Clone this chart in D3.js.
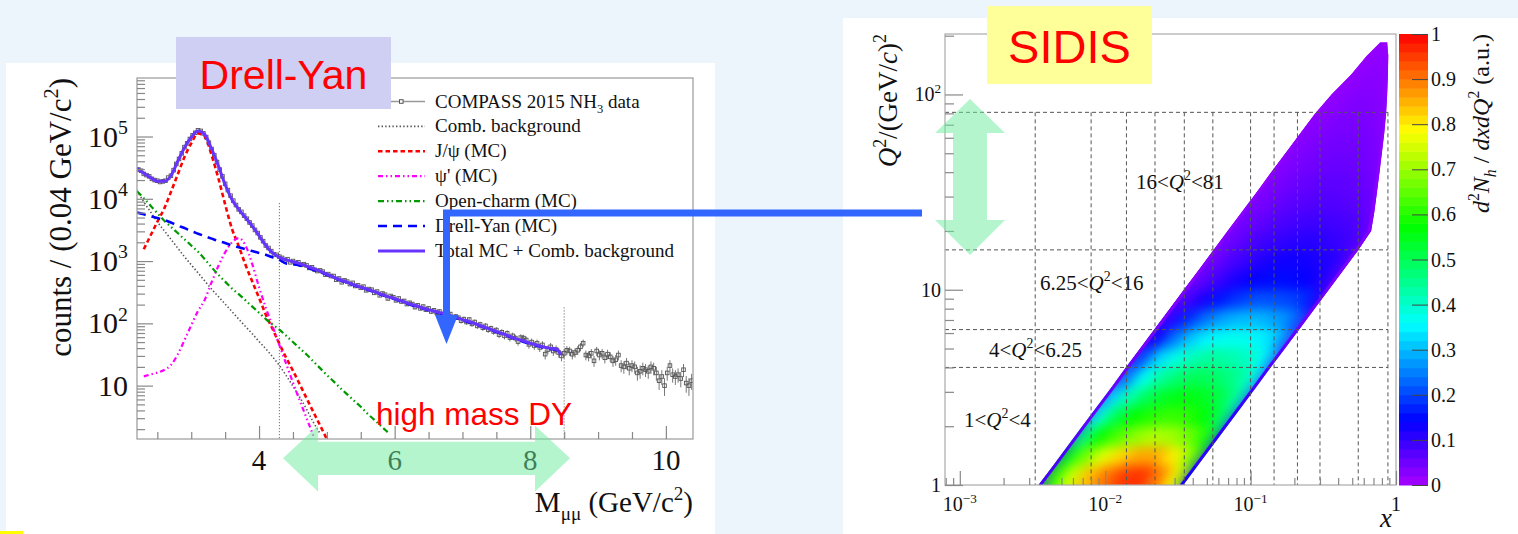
<!DOCTYPE html>
<html>
<head>
<meta charset="utf-8">
<script src="https://cdn.jsdelivr.net/npm/d3@7"></script>
<style>
  html, body { margin: 0; padding: 0; background: #edf5fc; }
  svg { display: block; }
  .serif { font-family: "Liberation Serif", "Times New Roman", serif; fill: #111; }
  .sans { font-family: "Liberation Sans", Arial, sans-serif; }
</style>
</head>
<body>
<svg id="chart" width="1518" height="534"></svg>
<script>
// ================= Drell-Yan: dimuon invariant mass spectrum =================
const massRange = [2.2, 10.4];          // GeV/c^2
const countRange = [1.39, 8.7e5];       // counts / 0.04 GeV/c^2
const binFirstCentre = 2.22, binWidth = 0.04;

// COMPASS 2015 NH3 data, one entry per 0.04 GeV/c^2 bin (2.22 ... 10.38)
const dataCounts = [
  // 2.22 - 4.30
  29510, 28180, 25120, 23990, 22910, 20890, 19950, 19500, 18620, 19050,
  19500, 21880, 23440, 28840, 36310, 43650, 53700, 67610, 77620, 91200,
  104700, 114800, 125900, 123000, 112200, 97720, 79430, 63100, 50120, 38900,
  29510, 22910, 17380, 13800, 11220, 9333, 7943, 6761, 6166, 5370,
  4786, 4169, 3715, 3162, 2818, 2399, 2089, 1778, 1622, 1445,
  1288, 1259, 1175,
  // 4.34 - 8.46
  1122, 1023, 1072, 955, 1000, 933, 955, 871, 891, 851,
  776, 794, 724, 692, 708, 676, 603, 617, 575, 575,
  501, 525, 457, 490, 468, 427, 447, 398, 407, 372,
  389, 339, 355, 347, 309, 324, 282, 302, 288, 251,
  275, 263, 234, 251, 224, 229, 204, 214, 204, 182,
  195, 174, 186, 166, 174, 155, 162, 148, 155, 138,
  148, 135, 141, 123, 129, 123, 110, 117, 105, 115,
  98, 105, 91, 96, 85, 91, 79, 83, 74, 78,
  66, 72, 63, 69, 59, 63, 58, 51, 59, 58,
  54, 46, 50, 44, 48, 41, 45, 32, 38, 42,
  36, 38, 34, 30,
  // 8.50 - 10.38
  33, 37, 36, 32, 34, 37, 42, 48, 31, 30,
  33, 25, 36, 31, 33, 28, 32, 29, 25, 26,
  31, 21, 20, 23, 19, 21, 20, 16, 17, 19,
  18, 17, 20, 19, 16, 12, 14, 10, 16, 21,
  15, 14, 15, 13, 18, 11, 10, 12
];

// MC components and combinatorial background (counts per bin)
const combMass   = [2.2,2.3,2.4,2.5,2.6,2.7,2.8,2.9,3.0,3.1,3.2,3.3,3.4,3.5,3.6,3.7,3.8,3.9,4.0,4.1,4.2,4.3,4.4,4.5,4.6,4.7,4.8,4.9];
const combCounts = [13490,8913,6166,4266,3090,2239,1622,1175,871,646,479,355,269,204,155,117,89,68,51,39,29,21,14.5,9.8,6.5,4.2,2.6,1.7];

const jpsiMass   = [2.3,2.4,2.5,2.6,2.7,2.8,2.9,3.0,3.1,3.2,3.3,3.4,3.5,3.6,3.7,3.8,3.9,4.0,4.1,4.2,4.3,4.4,4.5,4.6,4.7,4.8,4.9,5.0];
const jpsiCounts = [1550,2570,4270,6920,12880,24550,46770,77620,112200,100000,50120,21380,8130,3310,1740,871,468,257,138,81,47,28,17.4,10.5,6.3,3.8,2.3,1.38];

const psi2Mass   = [2.3,2.4,2.5,2.6,2.7,2.8,2.9,3.0,3.1,3.2,3.3,3.4,3.5,3.6,3.7,3.8,3.9,4.0,4.1,4.2,4.3,4.4,4.5,4.6,4.7,4.8];
const psi2Counts = [14.1,15.1,16.2,17.8,21.4,31.6,53.7,93.3,158,240,457,832,1380,1995,2344,1778,891,380,178,89,44.7,22.4,11.2,5.75,3.02,1.58];

const charmMass   = [2.2,2.3,2.4,2.5,2.6,2.7,2.8,2.9,3.0,3.1,3.2,3.3,3.4,3.5,3.6,3.7,3.8,3.9,4.0,4.1,4.2,4.3,4.4,4.5,4.6,4.7,4.8,4.9,5.0,5.1,5.2,5.3,5.4,5.5,5.6,5.7,5.8,5.9];
const charmCounts = [13180,10230,7762,5888,4467,3548,2818,2239,1778,1413,1072,794,603,468,363,295,234,186,148,117,95.5,79.4,63.1,50.1,39.8,31.6,24.5,19.1,14.8,11.7,9.12,7.24,5.75,4.57,3.55,2.82,2.24,1.78];

const dyMass   = [2.2,2.3,2.4,2.5,2.6,2.7,2.8,2.9,3.0,3.1,3.2,3.3,3.4,3.5,3.6,3.7,3.8,3.9,4.0,4.1,4.2,4.3,4.4,4.5,4.6,4.7,4.8,
                  5.0,5.2,5.4,5.6,5.8,6.0,6.2,6.4,6.6,6.8,7.0,7.2,7.4,7.6,7.8,8.0,8.2,8.4];
const dyCounts = [6026,5623,5248,4898,4571,4169,3715,3388,3020,2754,2512,2291,2089,1950,1778,1660,1549,1445,1349,1259,1148,1047,912,891,851,794,724,
                  603,490,407,347,288,245,204,174,151,132,112,95.5,79.4,66.1,55.0,46.8,40.7,37.2];

const totalMass   = [2.2,2.3,2.4,2.5,2.6,2.7,2.8,2.9,3.0,3.1,3.2,3.3,3.4,3.5,3.6,3.7,3.8,3.9,4.0,4.1,4.2,4.3,
                     4.4,4.5,4.6,4.7,4.8,4.9,5.0,5.1,5.2,5.3,5.4,5.5,5.6,5.7,5.8,5.9,6.0,6.1,6.2,6.3,6.4,6.5,6.6,6.7,6.8,6.9,
                     7.0,7.1,7.2,7.3,7.4,7.5,7.6,7.7,7.8,7.9,8.0,8.1,8.2,8.3,8.4,8.45];
const totalCounts = [30900,25700,21880,19050,19050,23440,39810,66070,97720,123000,107200,63100,33880,16980,9772,6761,5012,3631,2570,1778,1349,1148,
                     1047,977,912,832,759,692,617,550,501,457,417,380,355,324,295,269,251,229,209,195,178,166,155,145,135,126,
                     115,107,97.7,89.1,81.3,74.1,67.6,61.7,56.2,52.5,47.9,44.7,41.7,39.8,38.0,30.9];

// High-mass window limits and the height of their marker lines
const windowMass = [4.3, 8.5];
const windowTop  = [8500, 180];

const legendLabels = ["COMPASS 2015 NH3 data", "Comb. background", "J/\u03C8 (MC)", "\u03C8' (MC)",
                      "Open-charm (MC)", "Drell-Yan (MC)", "Total MC + Comb. background"];
const countTicks = [10, 100, 1000, 10000, 100000];
const massTicks = [4, 6, 8, 10];

// ================= SIDIS: (x, Q^2) kinematic coverage =================
const xRange = [7.91e-4, 1];
const q2Range = [1, 204];
const xTicks = [1e-3, 1e-2, 1e-1, 1];
const q2Ticks = [1, 10, 100];
// Q^2 bin limits and x bin limits of the analysis grid
const q2BinLimits = [4, 6.25, 16, 81];
const xBinLimits = [0.0033, 0.008, 0.014, 0.022, 0.035, 0.055, 0.1, 0.145, 0.21, 0.3, 0.55, 0.88];
const q2BinLabels = [
  {lo: "1", hi: "4"}, {lo: "4", hi: "6.25"}, {lo: "6.25", hi: "16"}, {lo: "16", hi: "81"}
];

// Density of events: rows of Q^2, each row spanning the band from its
// small-x edge to its large-x edge; columns are fractions across the band.
const q2Edges   = [1, 1.26, 1.58, 2.0, 2.51, 3.16, 3.98, 5.01, 6.31, 7.94, 10, 12.6, 15.8, 20, 25.1, 31.6, 39.8, 50.1, 63.1, 79.4, 100, 126, 158, 185];
const xLowEdge  = [0.00347, 0.00438, 0.00549, 0.00694, 0.00872, 0.0110, 0.0138, 0.0174, 0.0219, 0.0276, 0.0347, 0.0438, 0.0549, 0.0694, 0.0872, 0.110, 0.138, 0.174, 0.219, 0.276, 0.36, 0.49, 0.63, 0.78];
const xHighEdge = [0.0345, 0.0434, 0.0545, 0.069, 0.0866, 0.109, 0.137, 0.173, 0.218, 0.274, 0.345, 0.434, 0.545, 0.675, 0.71, 0.74, 0.77, 0.80, 0.83, 0.855, 0.87, 0.88, 0.885, 0.87];
const bandFrac  = [0, 0.025, 0.12, 0.24, 0.36, 0.48, 0.60, 0.72, 0.84, 0.93, 0.975, 1];
const density = [
  [0.08, 0.60, 0.74, 0.84, 0.90, 0.95, 0.96, 0.90, 0.80, 0.66, 0.12],
  [0.08, 0.55, 0.67, 0.76, 0.82, 0.86, 0.86, 0.80, 0.70, 0.60, 0.10],
  [0.07, 0.46, 0.58, 0.64, 0.69, 0.72, 0.71, 0.67, 0.60, 0.52, 0.10],
  [0.06, 0.38, 0.50, 0.57, 0.60, 0.62, 0.61, 0.57, 0.51, 0.44, 0.10],
  [0.06, 0.33, 0.43, 0.50, 0.54, 0.56, 0.55, 0.52, 0.46, 0.40, 0.09],
  [0.05, 0.25, 0.37, 0.44, 0.48, 0.50, 0.49, 0.46, 0.42, 0.36, 0.08],
  [0.05, 0.20, 0.32, 0.38, 0.42, 0.44, 0.43, 0.41, 0.37, 0.30, 0.07],
  [0.04, 0.14, 0.24, 0.31, 0.35, 0.37, 0.37, 0.35, 0.31, 0.25, 0.06],
  [0.04, 0.11, 0.18, 0.24, 0.28, 0.30, 0.30, 0.28, 0.25, 0.20, 0.05],
  [0.035, 0.08, 0.12, 0.16, 0.19, 0.21, 0.21, 0.20, 0.18, 0.14, 0.05],
  [0.03, 0.06, 0.09, 0.12, 0.14, 0.15, 0.15, 0.14, 0.12, 0.10, 0.04],
  [0.03, 0.05, 0.08, 0.10, 0.12, 0.13, 0.13, 0.12, 0.11, 0.09, 0.04],
  [0.03, 0.05, 0.07, 0.09, 0.10, 0.11, 0.11, 0.10, 0.09, 0.075, 0.035],
  [0.025, 0.045, 0.06, 0.075, 0.085, 0.09, 0.09, 0.085, 0.075, 0.065, 0.03],
  [0.025, 0.04, 0.05, 0.065, 0.07, 0.075, 0.075, 0.07, 0.065, 0.055, 0.03],
  [0.02, 0.035, 0.045, 0.055, 0.06, 0.065, 0.065, 0.06, 0.055, 0.05, 0.025],
  [0.02, 0.03, 0.04, 0.045, 0.05, 0.055, 0.055, 0.05, 0.045, 0.04, 0.025],
  [0.02, 0.03, 0.035, 0.04, 0.045, 0.045, 0.045, 0.045, 0.04, 0.035, 0.02],
  [0.02, 0.025, 0.03, 0.035, 0.04, 0.04, 0.04, 0.04, 0.035, 0.03, 0.02],
  [0.015, 0.02, 0.025, 0.03, 0.035, 0.035, 0.035, 0.035, 0.03, 0.025, 0.02],
  [0.015, 0.02, 0.02, 0.025, 0.03, 0.03, 0.03, 0.03, 0.025, 0.02, 0.015],
  [0.01, 0.015, 0.02, 0.02, 0.025, 0.025, 0.025, 0.025, 0.02, 0.02, 0.015],
  [0.01, 0.01, 0.015, 0.015, 0.02, 0.02, 0.02, 0.02, 0.015, 0.015, 0.01]
];
const paletteTicks = [0, 0.1, 0.2, 0.3, 0.4, 0.5, 0.6, 0.7, 0.8, 0.9, 1];
const paletteLevels = 50;

// ---------------------------------------------------------------------------
const svg = d3.select("#chart");
const defs = svg.append("defs");

// rich text: parts = [{t, sup, sub, it}]
function richText(parent, parts, fs) {
  const t = parent.append("text").attr("font-size", fs);
  let shift = 0;
  parts.forEach(p => {
    const target = p.sup ? -fs * 0.42 : p.sub ? fs * 0.28 : 0;
    const ts = t.append("tspan").text(p.t).attr("dy", target - shift);
    shift = target;
    if (p.sup || p.sub) ts.attr("font-size", fs * 0.66);
    if (p.it) ts.attr("font-style", "italic");
  });
  return t;
}
function logMinor(lo, hi) {
  const out = [];
  for (let e = Math.floor(Math.log10(lo)); e <= Math.ceil(Math.log10(hi)); e++) {
    for (let k = 2; k <= 9; k++) {
      const v = k * Math.pow(10, e);
      if (v >= lo && v <= hi) out.push(v);
    }
  }
  return out;
}

// slide background and white panels
svg.append("rect").attr("width", 1518).attr("height", 534).attr("fill", "#edf5fc");
svg.append("rect").attr("x", 6).attr("y", 63).attr("width", 709).attr("height", 471).attr("fill", "#fff");
svg.append("rect").attr("x", 843).attr("y", 18).attr("width", 675).attr("height", 516).attr("fill", "#fff");
svg.append("rect").attr("x", 0).attr("y", 531).attr("width", 23).attr("height", 3).attr("fill", "#ffff00");

// ======================= left panel =======================
const LP = {x0: 137, x1: 693, y0: 78, y1: 439};
const xM = d3.scaleLinear().domain(massRange).range([LP.x0, LP.x1]);
const yC = d3.scaleLog().domain(countRange).range([LP.y1, LP.y0]);

defs.append("clipPath").attr("id", "clipL").append("rect")
  .attr("x", LP.x0).attr("y", LP.y0).attr("width", LP.x1 - LP.x0).attr("height", LP.y1 - LP.y0);

const left = svg.append("g");
const plotL = left.append("g").attr("clip-path", "url(#clipL)");

// window marker lines
windowMass.forEach((m, i) => {
  plotL.append("line").attr("x1", xM(m)).attr("x2", xM(m))
    .attr("y1", yC(windowTop[i])).attr("y2", LP.y1)
    .attr("stroke", "#555").attr("stroke-width", 1).attr("stroke-dasharray", "1,2");
});

// data with statistical error bars
const dataPts = dataCounts.map((n, i) => ({m: binFirstCentre + binWidth * i, n}));
const gData = plotL.append("g");
gData.selectAll("line.err").data(dataPts).join("line")
  .attr("x1", d => xM(d.m)).attr("x2", d => xM(d.m))
  .attr("y1", d => yC(d.n + Math.sqrt(d.n)))
  .attr("y2", d => yC(Math.max(d.n - Math.sqrt(d.n), 1.0)))
  .attr("stroke", "#777").attr("stroke-width", 1);
gData.selectAll("rect.pt").data(dataPts).join("rect")
  .attr("x", d => xM(d.m) - 1.8).attr("y", d => yC(d.n) - 1.8)
  .attr("width", 3.6).attr("height", 3.6)
  .attr("fill", "none").attr("stroke", "#555").attr("stroke-width", 0.9);

// curves
const curveStyles = [
  {mass: combMass,  counts: combCounts,  color: "#555555", width: 1.6, dash: "1.4,2.2"},
  {mass: jpsiMass,  counts: jpsiCounts,  color: "#ff0000", width: 2.6, dash: "4.5,3"},
  {mass: psi2Mass,  counts: psi2Counts,  color: "#ff00ff", width: 2.2, dash: "5,3,1.5,3,1.5,3"},
  {mass: charmMass, counts: charmCounts, color: "#009900", width: 2.2, dash: "6,3,1.5,3,1.5,3"},
  {mass: dyMass,    counts: dyCounts,    color: "#0000ff", width: 2.6, dash: "9,6"},
  {mass: totalMass, counts: totalCounts, color: "#6633ff", width: 3,   dash: null}
];
const lineGen = d3.line().x(d => xM(d[0])).y(d => yC(d[1])).curve(d3.curveMonotoneX);
curveStyles.forEach(s => {
  plotL.append("path").datum(s.mass.map((m, i) => [m, s.counts[i]]))
    .attr("d", lineGen).attr("fill", "none")
    .attr("stroke", s.color).attr("stroke-width", s.width)
    .attr("stroke-dasharray", s.dash);
});

// frame and axes
left.append("rect").attr("x", LP.x0).attr("y", LP.y0).attr("width", LP.x1 - LP.x0).attr("height", LP.y1 - LP.y0)
  .attr("fill", "none").attr("stroke", "#999").attr("stroke-width", 1.2);
const axisStyle = g => { g.select(".domain").remove(); g.selectAll("line").attr("stroke", "#888").attr("stroke-width", 1.2); };
left.append("g").attr("transform", `translate(${LP.x0},0)`)
  .call(d3.axisLeft(yC).tickValues(logMinor(countRange[0], countRange[1])).tickSize(-8).tickFormat(""))
  .call(axisStyle);
left.append("g").attr("transform", `translate(${LP.x0},0)`)
  .call(d3.axisLeft(yC).tickValues(countTicks).tickSize(-16).tickFormat(""))
  .call(axisStyle);
const massMinor = [2.5, 3, 3.5, 4.5, 5, 5.5, 6.5, 7, 7.5, 8.5, 9, 9.5];
left.append("g").attr("transform", `translate(0,${LP.y1})`)
  .call(d3.axisBottom(xM).tickValues(massMinor).tickSize(-7).tickFormat(""))
  .call(axisStyle);
left.append("g").attr("transform", `translate(0,${LP.y1})`)
  .call(d3.axisBottom(xM).tickValues(massTicks).tickSize(-13).tickFormat(""))
  .call(axisStyle);

// tick labels
const gyl = left.append("g").attr("class", "serif");
countTicks.forEach(v => {
  const e = Math.round(Math.log10(v));
  const parts = e === 1 ? [{t: "10"}] : [{t: "10"}, {t: String(e), sup: true}];
  richText(gyl, parts, 30).attr("x", 128).attr("y", yC(v) + 10).attr("text-anchor", "end");
});
massTicks.forEach(v => {
  gyl.append("text").attr("x", xM(v)).attr("y", 470).attr("text-anchor", "middle")
    .attr("font-size", 29).text(v);
});
// axis titles
richText(gyl, [{t: "counts / (0.04 GeV/c"}, {t: "2", sup: true}, {t: ")"}], 31)
  .attr("text-anchor", "end").attr("transform", `translate(71,${LP.y0}) rotate(-90)`);
richText(gyl, [{t: "M"}, {t: "\u03BC\u03BC", sub: true}, {t: " (GeV/c"}, {t: "2", sup: true}, {t: ")"}], 29)
  .attr("x", LP.x1).attr("y", 512).attr("text-anchor", "end");

// legend
const leg = left.append("g").attr("class", "serif");
legendLabels.forEach((lab, i) => {
  const y = 101.5 + i * 24.9;
  if (i === 0) {
    leg.append("line").attr("x1", 378).attr("x2", 425).attr("y1", y).attr("y2", y)
      .attr("stroke", "#999").attr("stroke-width", 1.3);
    leg.append("rect").attr("x", 399.5).attr("y", y - 1.8).attr("width", 3.6).attr("height", 3.6)
      .attr("fill", "#fff").attr("stroke", "#555");
    richText(leg, [{t: "COMPASS 2015 NH"}, {t: "3", sub: true}, {t: " data"}], 19)
      .attr("x", 435).attr("y", y + 6);
  } else {
    const s = curveStyles[i - 1];
    leg.append("line").attr("x1", 378).attr("x2", 425).attr("y1", y).attr("y2", y)
      .attr("stroke", s.color).attr("stroke-width", s.width).attr("stroke-dasharray", s.dash);
    leg.append("text").attr("x", 435).attr("y", y + 6).attr("font-size", 19).text(lab);
  }
});

// ======================= right panel =======================
const RP = {x0: 945, x1: 1396, y0: 34, y1: 485};
const xB = d3.scaleLog().domain(xRange).range([RP.x0, RP.x1]);
const yQ = d3.scaleLog().domain(q2Range).range([RP.y1, RP.y0]);
const rainbow = v => d3.hsl(280 * (1 - Math.max(0, Math.min(1, v))), 1, 0.5).toString();

const right = svg.append("g");

// band cells
function bandX(r, f) {
  const a = Math.log10(xLowEdge[r]), b = Math.log10(xHighEdge[r]);
  return Math.pow(10, a + f * (b - a));
}
const cells = [];
density.forEach((row, r) => row.forEach((v, c) => {
  const f0 = bandFrac[c], f1 = bandFrac[c + 1];
  cells.push({r, c, v, pts: [
    [bandX(r, f0), q2Edges[r]], [bandX(r, f1), q2Edges[r]],
    [bandX(r + 1, f1), q2Edges[r + 1]], [bandX(r + 1, f0), q2Edges[r + 1]]
  ]});
}));
const toPts = pts => pts.map(p => `${xB(p[0])},${yQ(p[1])}`).join(" ");
const bandOutline = [];
q2Edges.forEach((q, r) => bandOutline.push([xLowEdge[r], q]));
q2Edges.slice().reverse().forEach((q, k) => bandOutline.push([xHighEdge[q2Edges.length - 1 - k], q]));
defs.append("clipPath").attr("id", "clipBand").append("polygon").attr("points", toPts(bandOutline));

const filt = defs.append("filter").attr("id", "smooth").attr("color-interpolation-filters", "sRGB")
  .attr("x", "-5%").attr("y", "-5%").attr("width", "110%").attr("height", "110%");
filt.append("feGaussianBlur").attr("stdDeviation", 6).attr("result", "b");
filt.append("feComponentTransfer").attr("in", "b")
  .append("feFuncA").attr("type", "table").attr("tableValues", "0 1 1 1 1 1 1 1 1 1 1");

const bandG = right.append("g").attr("clip-path", "url(#clipBand)");
bandG.append("g").attr("filter", "url(#smooth)")
  .selectAll("polygon").data(cells).join("polygon")
  .attr("points", d => toPts(d.pts)).attr("fill", d => rainbow(d.v))
  .attr("stroke", d => rainbow(d.v)).attr("stroke-width", 0.6);
bandG.append("g")
  .selectAll("polygon").data(cells.filter(d => d.c === 0 || d.c === bandFrac.length - 2)).join("polygon")
  .attr("points", d => toPts(d.pts)).attr("fill", d => rainbow(d.v))
  .attr("stroke", d => rainbow(d.v)).attr("stroke-width", 0.4);

// analysis grid
const gridG = right.append("g").attr("stroke", "#555").attr("stroke-width", 1).attr("stroke-dasharray", "4,3");
const xGridEnd = xBinLimits[xBinLimits.length - 1];
q2BinLimits.forEach(q => gridG.append("line")
  .attr("x1", RP.x0).attr("x2", xB(xGridEnd)).attr("y1", yQ(q)).attr("y2", yQ(q)));
xBinLimits.forEach(x => gridG.append("line")
  .attr("x1", xB(x)).attr("x2", xB(x)).attr("y1", yQ(q2BinLimits[q2BinLimits.length - 1])).attr("y2", RP.y1));

// bin labels
const binLabelPos = [[964, 427], [989, 356.5], [1040, 290], [1136, 189]];
const lblG = right.append("g").attr("class", "serif");
q2BinLabels.forEach((b, i) => {
  richText(lblG, [{t: b.lo + "<"}, {t: "Q", it: true}, {t: "2", sup: true}, {t: "<" + b.hi}], 21)
    .attr("x", binLabelPos[i][0]).attr("y", binLabelPos[i][1]);
});

// frame and axes
right.append("rect").attr("x", RP.x0).attr("y", RP.y0).attr("width", RP.x1 - RP.x0).attr("height", RP.y1 - RP.y0)
  .attr("fill", "none").attr("stroke", "#aaa").attr("stroke-width", 1.2);
right.append("g").attr("transform", `translate(${RP.x0},0)`)
  .call(d3.axisLeft(yQ).tickValues(logMinor(q2Range[0], q2Range[1]).filter(v => q2Ticks.indexOf(v) < 0)).tickSize(-9).tickFormat(""))
  .call(axisStyle);
right.append("g").attr("transform", `translate(${RP.x0},0)`)
  .call(d3.axisLeft(yQ).tickValues(q2Ticks).tickSize(-18).tickFormat(""))
  .call(axisStyle);
right.append("g").attr("transform", `translate(0,${RP.y1})`)
  .call(d3.axisBottom(xB).tickValues(logMinor(xRange[0], xRange[1]).filter(v => v < 0.999)).tickSize(-7).tickFormat(""))
  .call(axisStyle);
right.append("g").attr("transform", `translate(0,${RP.y1})`)
  .call(d3.axisBottom(xB).tickValues(xTicks).tickSize(-14).tickFormat(""))
  .call(axisStyle);

const rl = right.append("g").attr("class", "serif");
q2Ticks.forEach(v => {
  const e = Math.round(Math.log10(v));
  const parts = e === 0 ? [{t: "1"}] : e === 1 ? [{t: "10"}] : [{t: "10"}, {t: String(e), sup: true}];
  richText(rl, parts, 20).attr("x", 941).attr("y", yQ(v) + 7).attr("text-anchor", "end");
});
xTicks.forEach(v => {
  const e = Math.round(Math.log10(v));
  const parts = e === 0 ? [{t: "1"}] : [{t: "10"}, {t: "\u2212" + (-e), sup: true}];
  richText(rl, parts, 20).attr("x", xB(v)).attr("y", 511).attr("text-anchor", "middle");
});
richText(rl, [{t: "Q", it: true}, {t: "2", sup: true}, {t: "/(GeV/"}, {t: "c", it: true}, {t: ")"}, {t: "2", sup: true}], 27)
  .attr("text-anchor", "end").attr("transform", `translate(897,${RP.y0}) rotate(-90)`);
rl.append("text").attr("x", 1392).attr("y", 527).attr("text-anchor", "end")
  .attr("font-size", 27).attr("font-style", "italic").text("x");

// colour palette
const PB = {x0: 1399, x1: 1428, y0: 34, y1: 485};
const yP = d3.scaleLinear().domain([0, 1]).range([PB.y1, PB.y0]);
const levels = d3.range(paletteLevels).map(i => i / paletteLevels);
right.append("g").selectAll("rect").data(levels).join("rect")
  .attr("x", PB.x0).attr("width", PB.x1 - PB.x0)
  .attr("y", d => yP(d + 1 / paletteLevels)).attr("height", d => yP(d) - yP(d + 1 / paletteLevels) + 0.5)
  .attr("fill", d => rainbow(d + 0.5 / paletteLevels));
right.append("g").attr("transform", `translate(${PB.x1},0)`)
  .call(d3.axisLeft(yP).tickValues(paletteTicks).tickSize(16).tickFormat(""))
  .call(g => { g.select(".domain").remove(); g.selectAll("line").attr("stroke", "#444").attr("stroke-width", 1); });
paletteTicks.forEach(v => {
  rl.append("text").attr("x", 1431).attr("y", yP(v) + 7).attr("font-size", 20).text(v);
});
richText(rl, [{t: "d", it: true}, {t: "2", sup: true}, {t: "N", it: true}, {t: "h", sub: true, it: true},
  {t: " / "}, {t: "dxdQ", it: true}, {t: "2", sup: true}, {t: " (a.u.)"}], 24)
  .attr("text-anchor", "end").attr("transform", `translate(1489,${RP.y0}) rotate(-90)`);

// ======================= annotations =======================
const ann = svg.append("g");
// connecting arrow
ann.append("path").attr("d", "M922,213 H446.5 V318").attr("fill", "none")
  .attr("stroke", "#3366ff").attr("stroke-width", 7);
ann.append("polygon").attr("points", "435,315 458,315 446.5,344").attr("fill", "#3366ff");

// titles
ann.append("rect").attr("x", 176).attr("y", 37).attr("width", 215).attr("height", 72).attr("fill", "#cfcff4");
ann.append("text").attr("class", "sans").attr("x", 283.5).attr("y", 89).attr("text-anchor", "middle")
  .attr("font-size", 41).attr("fill", "#ff0000").text("Drell-Yan");
ann.append("rect").attr("x", 987).attr("y", 6).attr("width", 165).attr("height", 78).attr("fill", "#ffff99");
ann.append("text").attr("class", "sans").attr("x", 1069.5).attr("y", 63).attr("text-anchor", "middle")
  .attr("font-size", 47).attr("fill", "#ff0000").text("SIDIS");

// range arrows
ann.append("polygon")
  .attr("points", "283,458.3 318,425.5 318,441.7 535,441.7 535,425.5 570,458.3 535,491.5 535,475 318,475 318,491.5")
  .attr("fill", "rgb(105,235,155)").attr("fill-opacity", 0.5);
ann.append("polygon")
  .attr("points", "970,99 1005,133 987,133 987,220 1005,220 970,255 935,220 953,220 953,133 935,133")
  .attr("fill", "rgb(105,235,155)").attr("fill-opacity", 0.5);
ann.append("text").attr("class", "sans").attr("x", 376).attr("y", 425)
  .attr("font-size", 31.5).attr("fill", "#ff0000").text("high mass DY");
</script>
</body>
</html>
